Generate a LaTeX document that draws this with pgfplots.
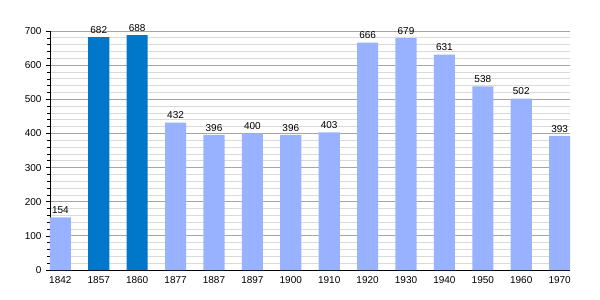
\documentclass[border=0pt]{standalone}
\usepackage{pgfplots}
\pgfplotsset{compat=1.18}
\usepackage{fontspec}
\setmainfont{Liberation Sans}
\definecolor{lightbar}{RGB}{153,178,255}
\definecolor{darkbar}{RGB}{0,119,200}
\definecolor{majgrid}{RGB}{165,165,165}
\definecolor{mingrid}{RGB}{218,218,218}
\begin{document}
\begin{tikzpicture}[x=1pt,y=1pt]
\begin{axis}[
  at={(0pt,0pt)}, anchor=south west,
  scale only axis, width=520pt, height=239pt,
  xmin=-0.27, xmax=13.27, ymin=0, ymax=700,
  xtick={0,...,13},
  xticklabels={1842,1857,1860,1877,1887,1897,1900,1910,1920,1930,1940,1950,1960,1970},
  ytick={0,100,...,700},
  minor y tick num=4,
  ymajorgrids, yminorgrids,
  major grid style={majgrid, line width=0.8pt},
  minor grid style={mingrid, line width=0.7pt},
  axis x line*=bottom, axis y line*=left,
  axis line style={black, line width=0.9pt, -},
  x tick style={draw=none},
  y tick style={black, line width=0.6pt},
  major tick length=4pt, minor tick length=2.5pt,
  tick align=outside,
  tick label style={font=\fontsize{10}{12}\selectfont},
  /pgf/number format/assume math mode=true,
  xticklabel style={yshift=1pt},
  yticklabel style={xshift=-1pt},
  ybar, bar width=0.55, bar shift=0pt,
  nodes near coords,
  nodes near coords style={font=\fontsize{10}{12}\selectfont, black, yshift=0pt},
  clip=false,
]
\addplot[fill=lightbar, draw=none] coordinates {(0,154) (3,432) (4,396) (5,400) (6,396) (7,403) (8,666) (9,679) (10,631) (11,538) (12,502) (13,393)};
\addplot[fill=darkbar, draw=none] coordinates {(1,682) (2,688)};
\end{axis}
\pgfresetboundingbox
\path[use as bounding box] (-50pt,-30pt) rectangle (550pt,270pt);
\end{tikzpicture}
\end{document}
